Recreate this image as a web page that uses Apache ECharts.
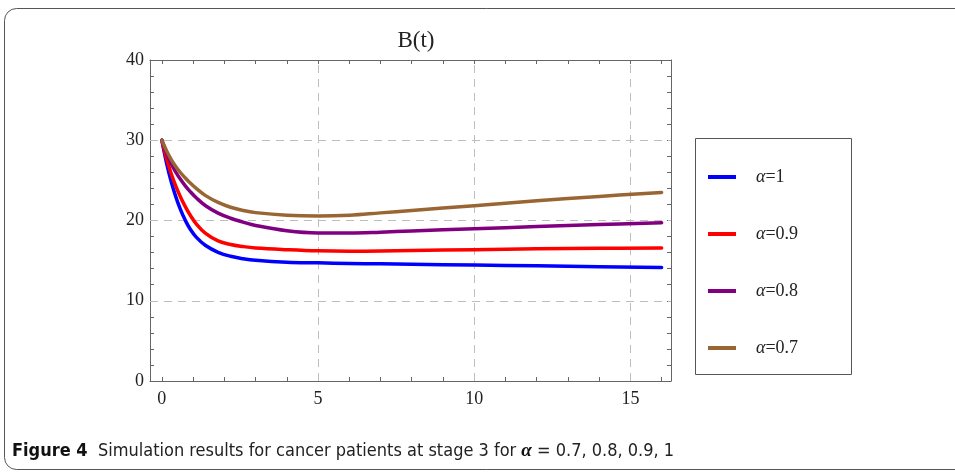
<!DOCTYPE html>
<html><head><meta charset="utf-8">
<script src="https://cdn.jsdelivr.net/npm/echarts@6/dist/echarts.min.js"></script>
<style>html,body{margin:0;padding:0;background:#fff}#c{width:955px;height:473px}</style>
</head><body><div id="c"></div>
<script>
// time points (t) and B(t) values
const tValues   = [0, 0.15, 0.3, 0.45, 0.6, 0.75, 0.9, 1.1, 1.4, 1.8, 2.2, 2.6, 3, 4, 5, 6, 7, 8, 10, 12, 14, 16];
const alpha1    = [30, 27.15, 24.83, 22.91, 21.32, 20.02, 18.97, 17.93, 16.88, 16.04, 15.54, 15.24, 15.04, 14.8, 14.72, 14.65, 14.6, 14.55, 14.45, 14.35, 14.25, 14.15];
const alpha09   = [30, 27.7, 25.83, 24.25, 22.9, 21.73, 20.71, 19.59, 18.39, 17.45, 17.0, 16.75, 16.58, 16.37, 16.22, 16.17, 16.2, 16.25, 16.37, 16.47, 16.53, 16.57];
const alpha08   = [30, 28.4, 27.08, 26.0, 25.1, 24.32, 23.63, 22.83, 21.84, 20.92, 20.28, 19.8, 19.38, 18.72, 18.45, 18.45, 18.55, 18.7, 18.97, 19.25, 19.5, 19.72];
const alpha07   = [30, 28.7, 27.6, 26.7, 25.95, 25.3, 24.7, 24.0, 23.1, 22.25, 21.65, 21.25, 20.98, 20.65, 20.55, 20.65, 20.95, 21.25, 21.85, 22.45, 23.0, 23.5];
const seriesNames = ['α=1', 'α=0.9', 'α=0.8', 'α=0.7'];
const seriesColors = ['#0000ff', '#ff0000', '#800080', '#996633'];
const xLabelTicks = [0, 5, 10, 15];
const xMinorTicks = [0,1,2,3,4,5,6,7,8,9,10,11,12,13,14,15,16];
const yMinorTicks = [0,2,4,6,8,10,12,14,16,18,20,22,24,26,28,30,32,34,36,38,40];
const gridX = [5, 10, 15];
const gridY = [10, 20, 30];
const titleText = 'B(t)';

const allValues = [alpha1, alpha09, alpha08, alpha07];
const serif = '"Liberation Serif", "Times New Roman", serif';
const frameColor = '#666';

const chart = echarts.init(document.getElementById('c'), null, {renderer: 'canvas'});

const series = allValues.map((vals, i) => ({
  name: seriesNames[i],
  type: 'line',
  smooth: 0.4,
  showSymbol: false,
  symbol: 'none',
  data: tValues.map((t, j) => [t, vals[j]]),
  lineStyle: {color: seriesColors[i], width: 3.5, join: 'round', cap: 'round'},
  itemStyle: {color: seriesColors[i]},
  z: 5
}));
// gridlines (dashed) as markLines
series.unshift({
  type: 'line', data: [], silent: true, symbol: 'none',
  markLine: {
    silent: true, symbol: ['none', 'none'], label: {show: false},
    lineStyle: {color: '#bdbdbd', type: [8, 6], width: 1},
    data: gridX.map(v => ({xAxis: v})).concat(gridY.map(v => ({yAxis: v})))
  },
  z: 1
});

const xBase = {type: 'value', min: -0.38, max: 16.3, splitLine: {show: false}};
const yBase = {type: 'value', min: 0, max: 40, splitLine: {show: false}};

chart.setOption({
  animation: false,
  title: {
    text: titleText, left: 411, top: 24, textAlign: 'center',
    textStyle: {fontFamily: serif, fontSize: 23, fontWeight: 'normal', color: '#222'}
  },
  grid: {left: 150, right: 284, top: 60, bottom: 92},
  xAxis: [
    Object.assign({}, xBase, {
      position: 'bottom',
      axisLine: {show: true, onZero: false, lineStyle: {color: frameColor, width: 1}},
      axisTick: {show: true, inside: true, length: 4, customValues: xMinorTicks, lineStyle: {color: frameColor}},
      axisLabel: {show: true, customValues: xLabelTicks, margin: 9, fontFamily: serif, fontSize: 18, color: '#222'}
    }),
    Object.assign({}, xBase, {
      position: 'top',
      axisLine: {show: true, onZero: false, lineStyle: {color: frameColor, width: 1}},
      axisTick: {show: true, inside: true, length: 4, customValues: xMinorTicks, lineStyle: {color: frameColor}},
      axisLabel: {show: false}
    })
  ],
  yAxis: [
    Object.assign({}, yBase, {
      position: 'left', interval: 10,
      axisLine: {show: true, onZero: false, lineStyle: {color: frameColor, width: 1}},
      axisTick: {show: true, inside: true, length: 4, customValues: yMinorTicks, lineStyle: {color: frameColor}},
      axisLabel: {show: true, margin: 6, fontFamily: serif, fontSize: 18, color: '#222'}
    }),
    Object.assign({}, yBase, {
      position: 'right', interval: 10,
      axisLine: {show: true, onZero: false, lineStyle: {color: frameColor, width: 1}},
      axisTick: {show: true, inside: true, length: 4, customValues: yMinorTicks, lineStyle: {color: frameColor}},
      axisLabel: {show: false}
    })
  ],
  legend: {
    orient: 'vertical', left: 703, top: 162,
    data: seriesNames,
    icon: 'rect', itemWidth: 28, itemHeight: 4, itemGap: 37,
    formatter: name => '{a|α}{b|' + name.slice(1) + '}',
    textStyle: {
      lineHeight: 20,
      rich: {
        a: {fontFamily: serif, fontStyle: 'italic', fontSize: 18, color: '#222', padding: [0, 0, 0, 15]},
        b: {fontFamily: serif, fontSize: 18, color: '#222'}
      }
    }
  },
  graphic: [
    {type: 'rect', shape: {x: 4.5, y: 8.5, width: 1000, height: 461, r: 12}, style: {fill: 'none', stroke: '#555', lineWidth: 1}, silent: true, z: -1},
    {type: 'rect', shape: {x: 695.5, y: 138.5, width: 156, height: 236}, style: {fill: 'none', stroke: '#555', lineWidth: 1}, silent: true},
    {type: 'text', left: 12, top: 442,
      style: {
        text: '{f|Figure 4}{n|  Simulation results for cancer patients at stage 3 for }{g|α}{n| = 0.7, 0.8, 0.9, 1}',
        rich: {
          f: {fontFamily: '"Liberation Sans Narrow", "DejaVu Sans Condensed", sans-serif', fontWeight: 'bold', fontSize: 18, fill: '#111'},
          n: {fontFamily: '"Liberation Sans Narrow", "DejaVu Sans Condensed", sans-serif', fontSize: 18, fill: '#222'},
          g: {fontFamily: serif, fontStyle: 'italic', fontWeight: 'bold', fontSize: 19, fill: '#111'}
        }
      }
    }
  ],
  series: series
});
</script></body></html>
